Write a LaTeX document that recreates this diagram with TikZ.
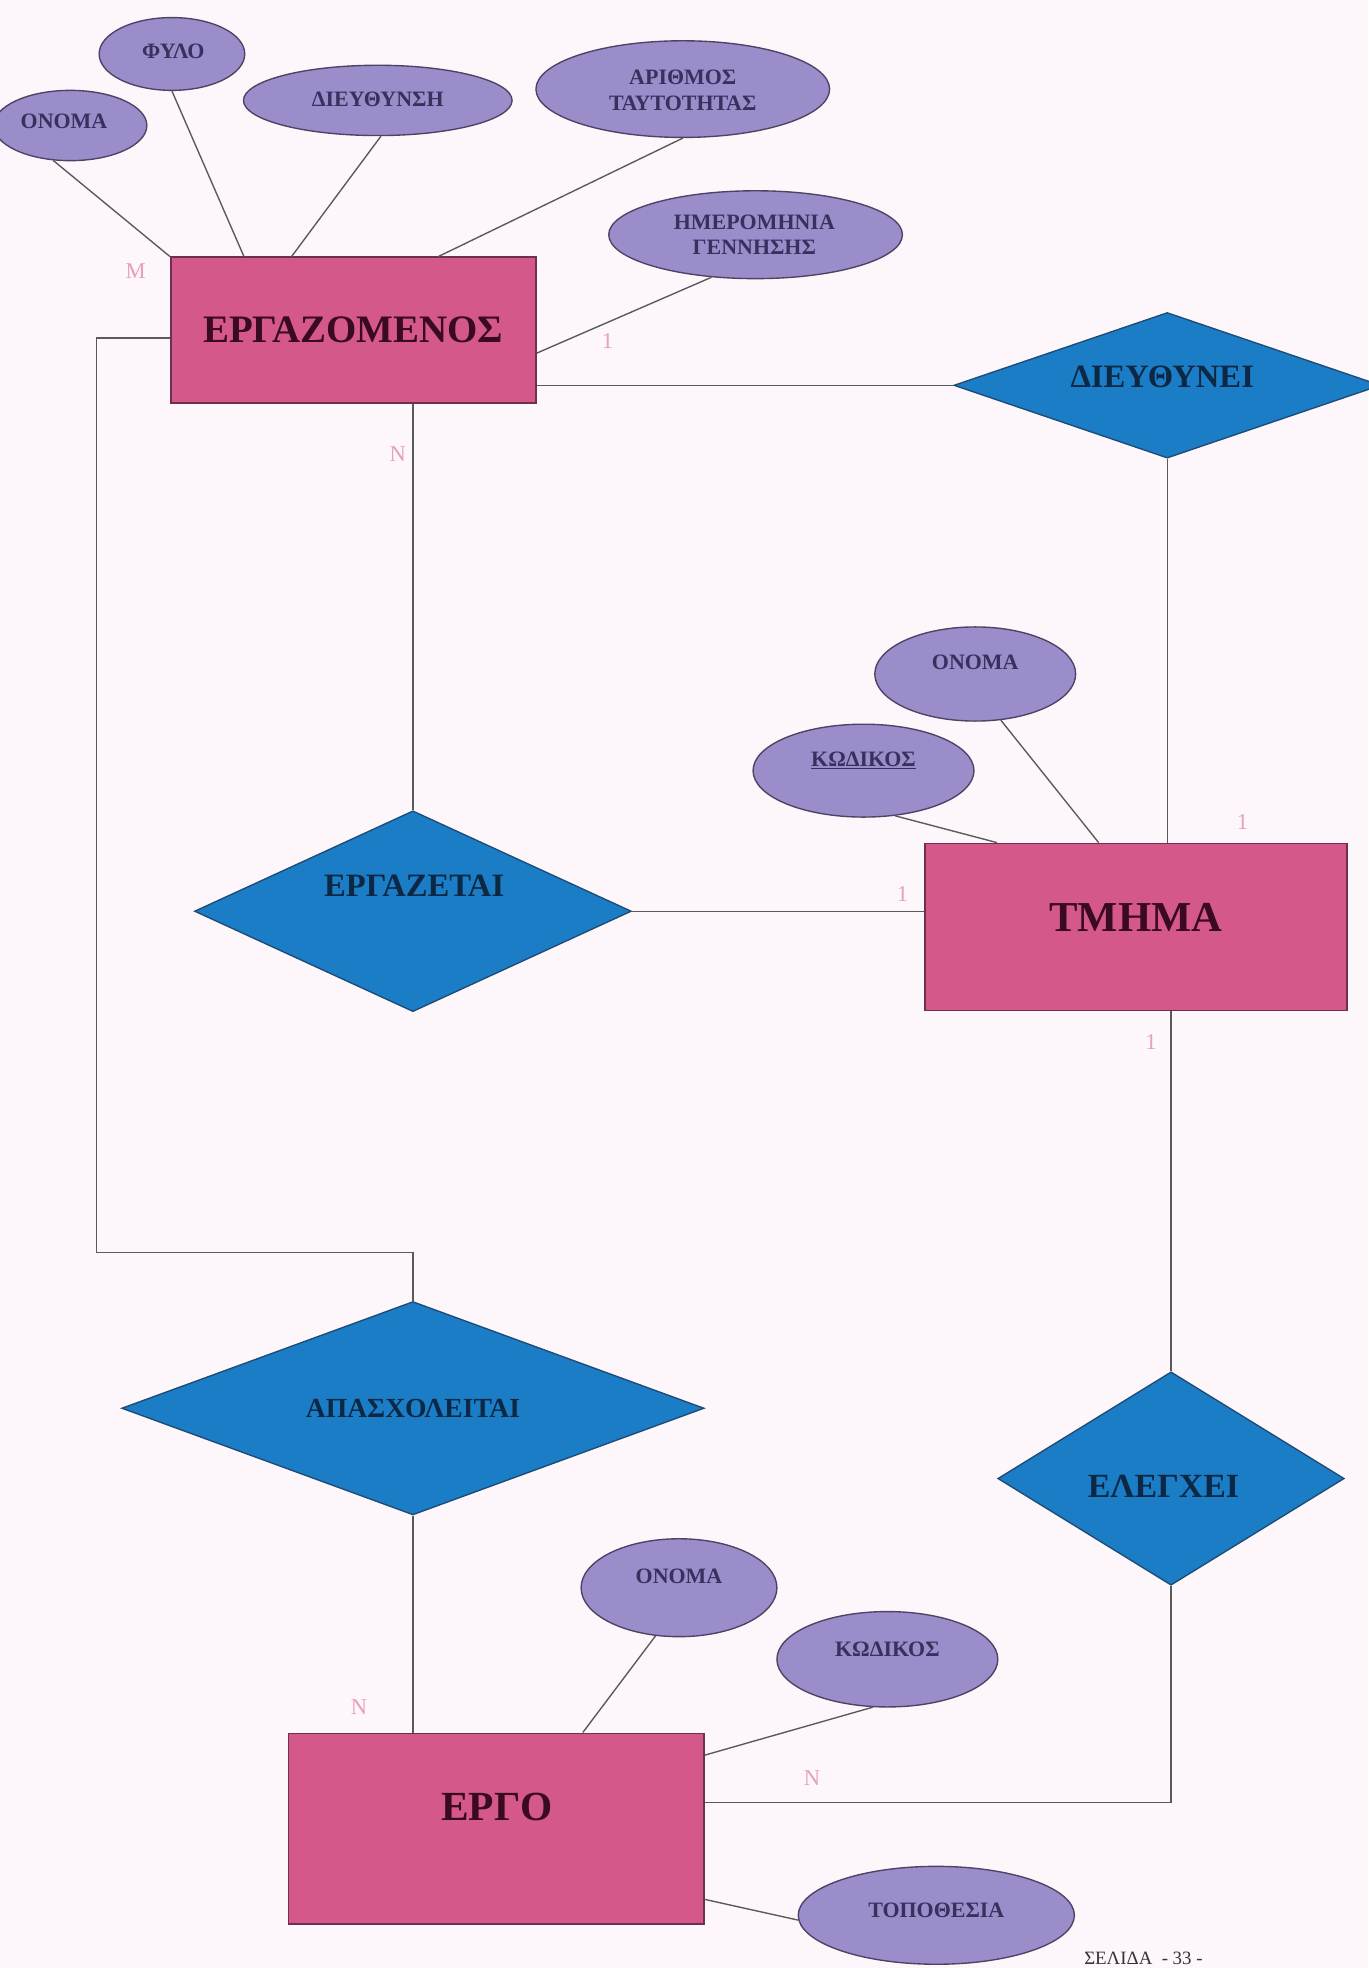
\documentclass[tikz,border=0pt]{standalone}
\usepackage{fontspec}
\setmainfont{Liberation Serif}
\usetikzlibrary{shapes.geometric,calc}

\definecolor{pagebg}{HTML}{FDF7FB}
\definecolor{entfill}{HTML}{D4598A}
\definecolor{entdraw}{HTML}{6E3050}
\definecolor{entink}{HTML}{3A0A20}
\definecolor{relfill}{HTML}{1B7DC5}
\definecolor{reldraw}{HTML}{1D4C78}
\definecolor{relink}{HTML}{0C2844}
\definecolor{attfill}{HTML}{9B8CCA}
\definecolor{attdraw}{HTML}{4D4465}
\definecolor{attink}{HTML}{3A305E}
\definecolor{wire}{HTML}{5A5A5A}
\definecolor{cardink}{HTML}{E6A0BA}

\tikzset{
  entity/.style={rectangle, draw=entdraw, fill=entfill, line width=1.3pt, inner sep=0pt},
  relation/.style={diamond, draw=reldraw, fill=relfill, line width=1.1pt, inner sep=0pt},
  attribute/.style={ellipse, draw=attdraw, fill=attfill, line width=1.1pt, inner sep=0pt},
  enttext/.style={text=entink, font=\bfseries\fontsize{31}{31}\selectfont, inner sep=0pt},
  reltext/.style={text=relink, font=\bfseries\fontsize{26}{26}\selectfont, inner sep=0pt},
  atttext/.style={text=attink, font=\bfseries\fontsize{17.5}{20.5}\selectfont, align=center, inner sep=0pt},
  card/.style={text=cardink, font=\fontsize{18}{18}\selectfont, inner sep=0pt},
  conn/.style={draw=wire, line width=1.1pt},
}

\begin{document}
\begin{tikzpicture}[x=1pt,y=-1pt]
\useasboundingbox (0,0) rectangle (1090,1568);
\fill[pagebg] (0,0) rectangle (1090,1568);

% entities
\node[entity, minimum width=291pt, minimum height=116pt] (emp) at (281.5,263) {};
\node[entity, minimum width=336pt, minimum height=133pt] (tmima) at (905,738.5) {};
\node[entity, minimum width=331pt, minimum height=152pt] (ergo) at (395.5,1457) {};
\node[enttext] (emp-t) at (281.5,263) {ΕΡΓΑΖΟΜΕΝΟΣ};
\node[enttext, font=\bfseries\fontsize{34}{34}\selectfont] (tmima-t) at (905,731) {ΤΜΗΜΑ};
\node[enttext, font=\bfseries\fontsize{33}{33}\selectfont] (ergo-t) at (396,1440) {ΕΡΓΟ};

% relationships
\node[relation, minimum width=340pt, minimum height=116pt] (dieuth) at (930,307) {};
\node[relation, minimum width=348pt, minimum height=160pt] (ergaz) at (329,726) {};
\node[relation, minimum width=464pt, minimum height=170pt] (apasx) at (329,1122) {};
\node[relation, minimum width=276pt, minimum height=170pt] (elegx) at (933,1178) {};
\node[reltext] (dieuth-t) at (926,300) {ΔΙΕΥΘΥΝΕΙ};
\node[reltext] (ergaz-t) at (330,706) {ΕΡΓΑΖΕΤΑΙ};
\node[reltext, font=\bfseries\fontsize{22}{22}\selectfont] (apasx-t) at (329,1122) {ΑΠΑΣΧΟΛΕΙΤΑΙ};
\node[reltext, font=\bfseries\fontsize{27}{27}\selectfont] (elegx-t) at (927,1184) {ΕΛΕΓΧΕΙ};

% attributes of ΕΡΓΑΖΟΜΕΝΟΣ
\node[attribute, minimum width=122pt, minimum height=56pt] (on1) at (56,100) {};
\node[attribute, minimum width=116pt, minimum height=58pt] (fylo) at (137,43) {};
\node[attribute, minimum width=214pt, minimum height=56pt] (addr) at (301,80) {};
\node[attribute, minimum width=234pt, minimum height=77pt] (arith) at (544,71) {};
\node[attribute, minimum width=234pt, minimum height=70pt] (imer) at (602,187) {};
\node[atttext] (on1-t) at (51,97) {ΟΝΟΜΑ};
\node[atttext] (fylo-t) at (138,41) {ΦΥΛΟ};
\node[atttext] (addr-t) at (301,79) {ΔΙΕΥΘΥΝΣΗ};
\node[atttext] (arith-t) at (544,72) {ΑΡΙΘΜΟΣ\\ΤΑΥΤΟΤΗΤΑΣ};
\node[atttext] (imer-t) at (601,187) {ΗΜΕΡΟΜΗΝΙΑ\\ΓΕΝΝΗΣΗΣ};

% attributes of ΤΜΗΜΑ
\node[attribute, minimum width=160pt, minimum height=75pt] (on2) at (777,537) {};
\node[attribute, minimum width=176pt, minimum height=74pt] (kod2) at (688,614) {};
\node[atttext] (on2-t) at (777,528) {ΟΝΟΜΑ};
\node[atttext] (kod2-t) at (688,606) {\underline{ΚΩΔΙΚΟΣ}};

% attributes of ΕΡΓΟ
\node[attribute, minimum width=156pt, minimum height=78pt] (on3) at (541,1265) {};
\node[attribute, minimum width=176pt, minimum height=76pt] (kod3) at (707,1322) {};
\node[attribute, minimum width=220pt, minimum height=78pt] (topo) at (746,1526) {};
\node[atttext] (on3-t) at (541,1256) {ΟΝΟΜΑ};
\node[atttext] (kod3-t) at (707,1314) {ΚΩΔΙΚΟΣ};
\node[atttext] (topo-t) at (746,1522) {ΤΟΠΟΘΕΣΙΑ};

% attribute links
\draw[conn] (on1.-116) -- (emp.north west);
\draw[conn] (fylo.-90) -- ($(emp.north west)+(59,0)$);
\draw[conn] (addr.-85) -- ($(emp.north west)+(97,0)$);
\draw[conn] (arith.-90) -- ($(emp.north west)+(214,0)$);
\draw[conn] (imer.224) -- ($(emp.north east)+(0,77)$);
\draw[conn] (on2.-61) -- ($(tmima.north west)+(139,0)$);
\draw[conn] (kod2.-55) -- ($(tmima.north west)+(58,0)$);
\draw[conn] (on3.-116) -- ($(ergo.north west)+(235,0)$);
\draw[conn] (kod3.-107) -- ($(ergo.north east)+(0,18)$);
\draw[conn] (topo.182) -- ($(ergo.north east)+(0,133)$);

% relationship links
\draw[conn] (emp.east |- dieuth.west) -- (dieuth.west);
\draw[conn] (dieuth.south) -- (dieuth.south |- tmima.north);
\draw[conn] (ergaz.north |- emp.south) -- (ergaz.north);
\draw[conn] (ergaz.east) -- (ergaz.east -| tmima.west);
\coordinate (bend) at (77,998);
\draw[conn] ($(emp.north west)+(0,65)$) -| (bend) -| (apasx.north);
\draw[conn] (apasx.south) -- (apasx.south |- ergo.north);
\draw[conn] (elegx.north |- tmima.south) -- (elegx.north);
\draw[conn] (elegx.south) |- ($(ergo.north east)+(0,56)$);

% cardinalities
\node[card] (c-m) at (108,216) {M};
\node[card] (c-emp1) at (484,272) {1};
\node[card] (c-empn) at (317,362) {N};
\node[card] (c-tm1) at (719,712) {1};
\node[card] (c-tm2) at (990,655) {1};
\node[card] (c-tm3) at (917,830) {1};
\node[card] (c-er1) at (286,1360) {N};
\node[card] (c-er2) at (647,1417) {N};

% page number
\node[text=black!80, font=\fontsize{15}{15}\selectfont, inner sep=0pt] (page) at (911,1560) {ΣΕΛΙΔΑ\ \ - 33 -};
\end{tikzpicture}
\end{document}
